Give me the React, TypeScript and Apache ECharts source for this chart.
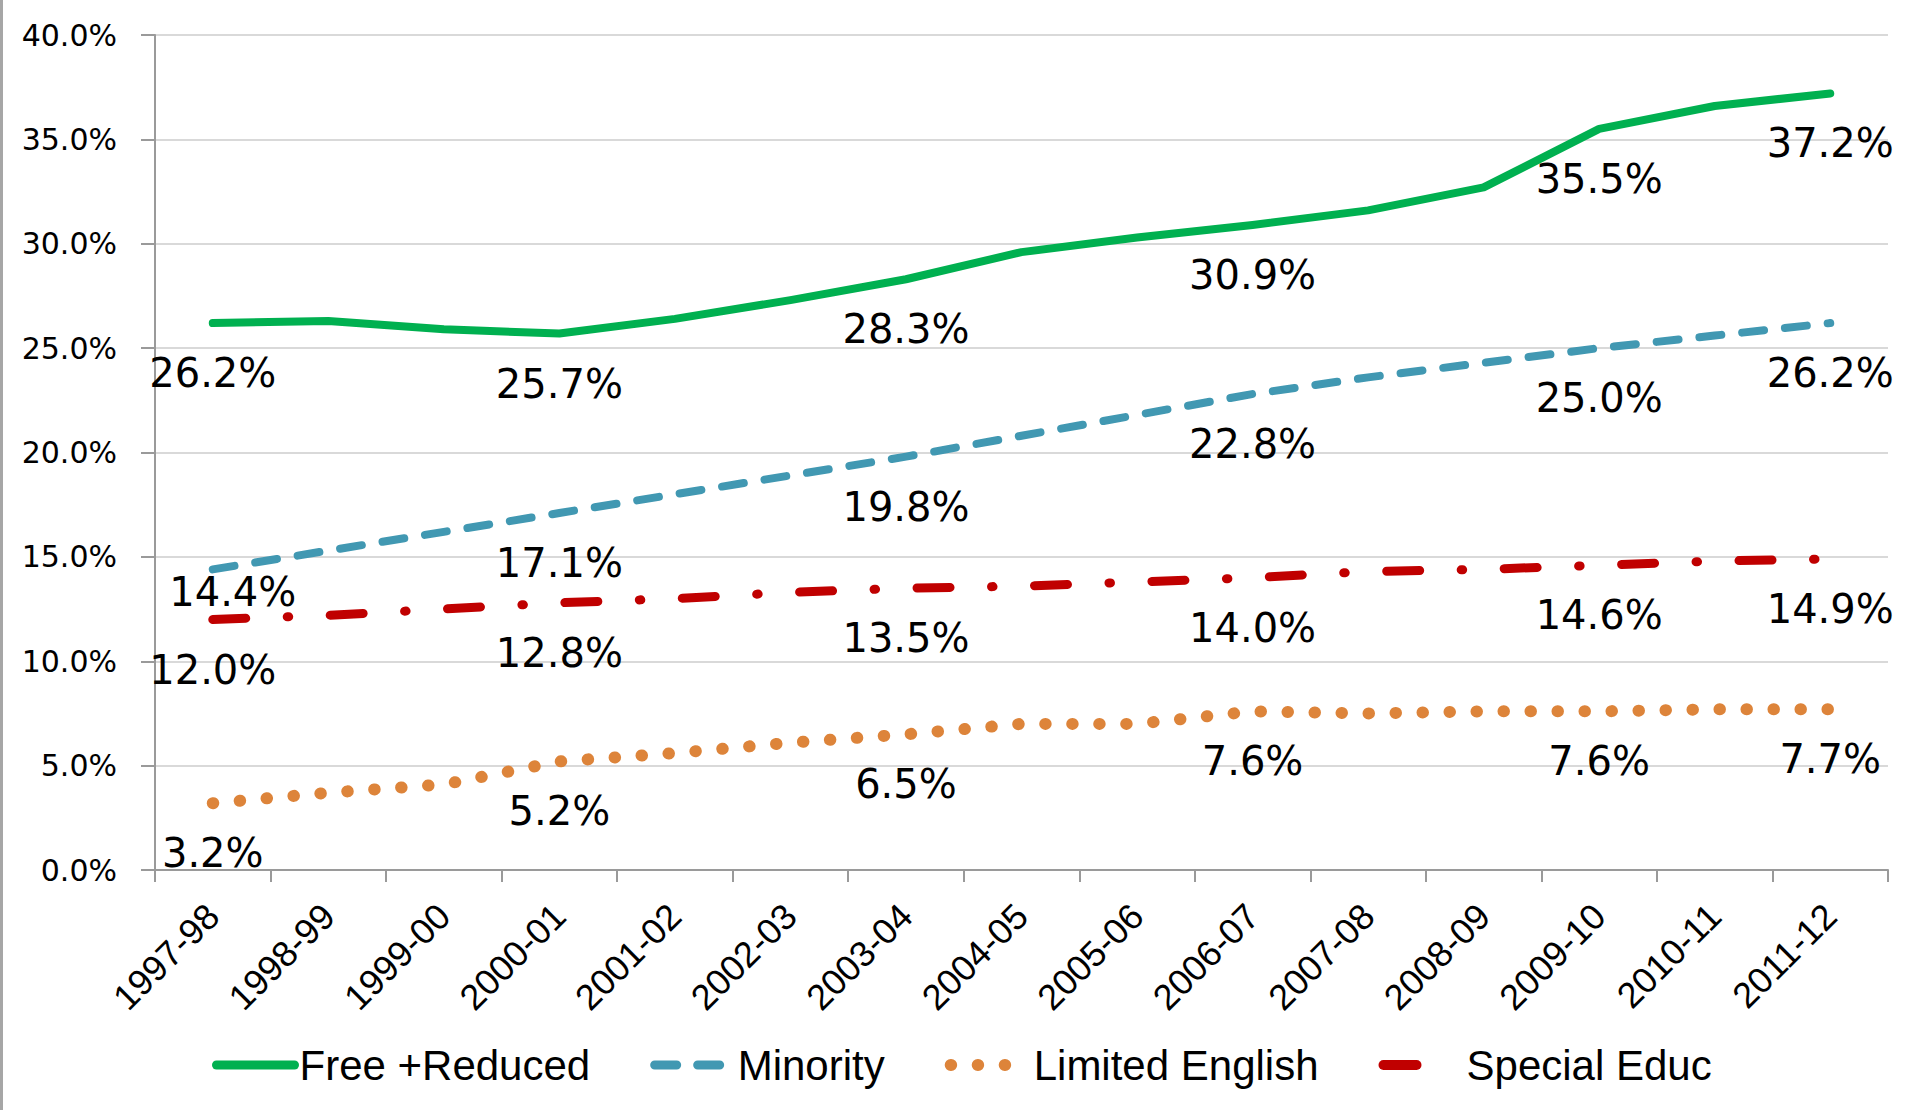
import React, { useEffect, useRef } from "react";
import * as echarts from "echarts";

const categories = [
  "1997-98", "1998-99", "1999-00", "2000-01", "2001-02", "2002-03", "2003-04", "2004-05",
  "2005-06", "2006-07", "2007-08", "2008-09", "2009-10", "2010-11", "2011-12",
];
const seriesNames = ["Free +Reduced", "Minority", "Limited English", "Special Educ"];
const freeReduced = [26.2, 26.3, 25.9, 25.7, 26.4, 27.3, 28.3, 29.6, 30.3, 30.9, 31.6, 32.7, 35.5, 36.6, 37.2];
const minority = [14.4, 15.3, 16.2, 17.1, 18.0, 18.9, 19.8, 20.8, 21.8, 22.8, 23.6, 24.3, 25.0, 25.6, 26.2];
const limitedEnglish = [3.2, 3.7, 4.1, 5.2, 5.6, 6.1, 6.5, 7.0, 7.0, 7.6, 7.5, 7.6, 7.6, 7.7, 7.7];
const specialEduc = [12.0, 12.2, 12.5, 12.8, 13.0, 13.3, 13.5, 13.6, 13.8, 14.0, 14.3, 14.4, 14.6, 14.8, 14.9];
const labeledIndices = [0, 3, 6, 9, 12, 14];
const yTicks = [0, 5, 10, 15, 20, 25, 30, 35, 40];

const colors = ["#00B050", "#4198B2", "#DD843A", "#C00000"];
const lineStyles: any[] = [
  { width: 8, type: "solid", cap: "round", join: "round" },
  { width: 8, type: [22, 21], cap: "round", join: "round" },
  { width: 12, type: [0.5, 26.5], cap: "round", join: "round" },
  { width: 9, type: [33, 41.5, 1.5, 41.5], cap: "round", join: "round" },
];
const legendLineStyles: any[] = [
  { width: 9, type: "solid", cap: "round" },
  { width: 9, type: [22, 21], cap: "round" },
  { width: 12, type: [0.5, 26.5], cap: "round" },
  { width: 10, type: [33, 200], cap: "round" },
];

const LABEL_FONT = "'DejaVu Sans', Verdana, sans-serif";
const SANS_FONT = "'Liberation Sans', Arial, sans-serif";

function buildData(values: number[], seriesIdx: number) {
  return values.map((v, i) => {
    const show = labeledIndices.indexOf(i) >= 0;
    let offset = [0, 50];
    if (seriesIdx === 1 && i === 0) offset = [20, 23];
    return {
      value: v,
      label: show
        ? {
            show: true,
            position: "inside",
            offset,
            formatter: (p: any) => p.value.toFixed(1) + "%",
            fontFamily: LABEL_FONT,
            fontSize: 40,
            color: "#000",
          }
        : { show: false },
    };
  });
}

export default function App() {
  const ref = useRef<HTMLDivElement>(null);
  useEffect(() => {
    if (!ref.current) return;
    const chart = echarts.init(ref.current, undefined, { renderer: "svg" });
    const allValues = [freeReduced, minority, limitedEnglish, specialEduc];
    chart.setOption({
      animation: false,
      backgroundColor: "#fff",
      grid: { left: 155, right: 17, top: 35, bottom: 240, containLabel: false },
      legend: {
        left: 212,
        top: 1044,
        padding: 0,
        itemWidth: 78,
        itemHeight: 14,
        itemGap: 60,
        textStyle: { fontFamily: SANS_FONT, fontSize: 42, color: "#000" },
        data: seriesNames.map((n, i) => ({
          name: n,
          lineStyle: { ...legendLineStyles[i], color: colors[i] },
          itemStyle: { color: "rgba(0,0,0,0)", borderWidth: 0 },
        })),
      },
      graphic: [
        { type: "rect", left: 0, top: 0, shape: { width: 3, height: 1110 }, style: { fill: "#A6A6A6" } },
      ],
      xAxis: {
        type: "category",
        data: categories,
        boundaryGap: true,
        axisLine: { show: true, lineStyle: { color: "#9A9A9A", width: 2 } },
        axisTick: { show: true, length: 12, lineStyle: { color: "#9A9A9A", width: 2 }, alignWithLabel: false },
        axisLabel: {
          rotate: 45,
          margin: 40,
          interval: 0,
          fontFamily: SANS_FONT,
          fontSize: 36,
          color: "#000",
        },
        splitLine: { show: false },
      },
      yAxis: {
        type: "value",
        min: yTicks[0],
        max: yTicks[yTicks.length - 1],
        interval: 5,
        axisLine: { show: true, lineStyle: { color: "#9A9A9A", width: 2 } },
        axisTick: { show: true, inside: false, length: 14, lineStyle: { color: "#9A9A9A", width: 2 } },
        axisLabel: {
          margin: 38,
          fontFamily: LABEL_FONT,
          fontSize: 30,
          color: "#000",
          formatter: (v: number) => v.toFixed(1) + "%",
        },
        splitLine: { show: true, lineStyle: { color: "#D9D9D9", width: 2 } },
      },
      series: seriesNames.map((n, i) => ({
        name: n,
        type: "line",
        data: buildData(allValues[i], i),
        symbol: "circle",
        symbolSize: 1,
        showSymbol: true,
        showAllSymbol: true,
        itemStyle: { color: "rgba(0,0,0,0)" },
        lineStyle: { ...lineStyles[i], color: colors[i] },
        z: 10 - i,
      })),
    });
    return () => chart.dispose();
  }, []);
  return (
    <div
      ref={ref}
      style={{ position: "fixed", left: 0, top: 0, width: 1905, height: 1110, background: "#fff" }}
    />
  );
}
